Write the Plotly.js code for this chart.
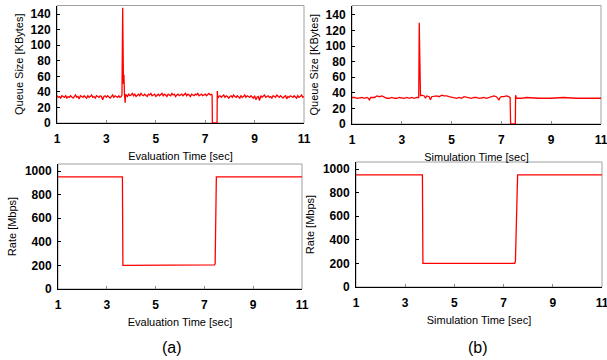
<!DOCTYPE html>
<html><head><meta charset="utf-8">
<script src="https://cdn.plot.ly/plotly-3.0.1.min.js"></script>
<style>html,body{margin:0;padding:0;background:#fff}#c{width:607px;height:360px}</style>
</head><body><div id="c"></div>
<script>
// ---- Data: (a) evaluation, queue size ----
const timeQueueA = [
 1,1.05,1.1,1.15,1.2,1.25,1.3,1.35,1.4,1.45,
 1.5,1.55,1.6,1.65,1.7,1.75,1.8,1.85,1.9,1.95,
 2,2.05,2.1,2.15,2.2,2.25,2.3,2.35,2.4,2.45,
 2.5,2.55,2.6,2.65,2.7,2.75,2.8,2.85,2.9,2.95,
 3,3.05,3.1,3.15,3.2,3.25,3.3,3.35,3.4,3.45,
 3.5,3.55,3.6,
 3.63,3.66,3.68,3.69,3.71,3.73,3.76,3.78,
 3.8,3.85,3.9,3.95,
 4,4.05,4.1,4.15,4.2,4.25,4.3,4.35,4.4,4.45,
 4.5,4.55,4.6,4.65,4.7,4.75,4.8,4.85,4.9,4.95,
 5,5.05,5.1,5.15,5.2,5.25,5.3,5.35,5.4,5.45,
 5.5,5.55,5.6,5.65,5.7,5.75,5.8,5.85,5.9,5.95,
 6,6.05,6.1,6.15,6.2,6.25,6.3,6.35,6.4,6.45,
 6.5,6.55,6.6,6.65,6.7,6.75,6.8,6.85,6.9,6.95,
 7,7.05,7.1,7.15,7.2,7.25,
 7.28,7.29,7.48,7.49,7.51,
 7.55,7.6,7.65,7.7,7.75,7.8,7.85,7.9,7.95,
 8,8.05,8.1,8.15,8.2,8.25,8.3,8.35,8.4,8.45,
 8.5,8.55,8.6,8.65,8.7,8.75,8.8,8.85,8.9,8.95,
 9,9.05,9.1,9.15,9.2,9.25,9.3,9.35,9.4,9.45,
 9.5,9.55,9.6,9.65,9.7,9.75,9.8,9.85,9.9,9.95,
 10,10.05,10.1,10.15,10.2,10.25,10.3,10.35,10.4,10.45,
 10.5,10.55,10.6,10.65,10.7,10.75,10.8,10.85,10.9,10.95,
 11
];
const queueA = [
 35,33,34,32,35,34,33,35,32,34,
 33,35,34,32,34,36,33,34,31,35,
 34,33,35,34,32,35,33,34,36,33,
 34,32,35,34,33,35,34,30,34,35,
 33,35,34,32,34,36,33,35,34,33,
 35,33,34,
 36,148,110,50,62,38,26,37,
 36,34,37,35,
 36,38,35,37,34,36,37,35,38,36,
 35,37,36,34,37,36,38,35,36,37,
 34,36,37,35,36,38,35,37,36,34,
 37,36,35,38,36,37,34,36,37,35,
 36,37,35,36,38,35,37,36,34,37,
 36,35,37,36,38,35,36,37,35,36,
 37,35,36,38,36,37,
 36,0,0,41,32,
 34,35,33,34,36,33,35,34,32,
 34,35,33,36,34,33,35,34,32,35,
 33,34,36,33,35,34,33,35,34,32,
 35,30,33,34,29,35,33,34,36,33,
 34,35,33,34,32,35,34,33,36,34,
 33,35,34,32,34,35,31,34,33,35,
 34,33,35,34,32,35,33,34,36,33,
 34
];
// ---- Data: (b) simulation, queue size ----
const timeQueueB = [1,1.1,1.2,1.3,1.4,1.5,1.6,1.65,1.7,1.75,1.8,1.9,2,2.1,2.2,2.3,2.4,2.5,2.6,2.7,2.8,2.9,3,3.1,3.2,3.3,3.4,3.5,3.6,
 3.68,3.7,3.72,3.75,3.8,3.9,3.95,4,4.1,4.15,4.2,4.3,4.4,4.5,4.6,4.7,4.8,4.9,5,5.1,5.2,5.3,5.4,5.5,5.6,5.7,5.8,5.9,
 6,6.1,6.2,6.3,6.4,6.5,6.6,6.7,6.8,6.85,6.9,6.95,7,7.1,7.2,7.3,7.35,7.37,7.56,7.57,7.6,7.8,8,8.5,9,9.5,10,10.5,11];
const queueB = [34,34,33,34,34,33,34,33,31,34,34,34,36,35,36,34,33,33,34,33,33,34,33,33,34,33,34,33,34,
 34,130,40,36,37,36,33,36,35,31,35,36,36,35,37,36,36,35,34,34,33,34,33,35,34,34,33,34,
 34,33,34,34,33,34,36,36,35,33,31,34,35,35,36,35,34,0,0,37,33,33,34,33,33,34,33,33,33];
// ---- Data: rates ----
const timeRateA = [1,3.64,3.66,7.37,7.42,7.44,7.49,11];
const rateA     = [950,950,200,200,205,215,950,950];
const timeRateB = [1,3.70,3.72,7.45,7.47,7.48,7.57,11];
const rateB     = [950,950,200,200,210,215,950,950];
const xTicks = [1,3,5,7,9,11];
const queueTicks = [0,20,40,60,80,100,120,140];
const rateTicks = [0,200,400,600,800,1000];

const W=607,H=360;
const dx=(a,b)=>[a/W,b/W];
const dy=(top,bot)=>[1-bot/H,1-top/H];
const red='#ff0000';
const FAM='Liberation Sans, Arial, sans-serif';
const tickF=()=>({family:FAM,size:12,color:'#000'});
const titF=()=>({family:FAM,size:11,color:'#000'});
const bold=v=>'<b>'+v+'</b>';

function xa(dom,anchor,title){return {domain:dom,anchor:anchor,range:[1,11],tickvals:xTicks.slice(),ticktext:xTicks.map(bold),
 ticks:'inside',ticklen:3,tickcolor:'#888',showline:true,linecolor:'#000',linewidth:1,showgrid:false,zeroline:false,
 ticklabelstandoff:5,ticklabeloverflow:'allow',
 tickfont:tickF(),title:{text:title,font:titF(),standoff:6}};}
function ya(dom,anchor,range,tv,title,st){return {domain:dom,anchor:anchor,range:range,tickvals:tv.slice(),ticktext:tv.map(bold),
 ticks:'inside',ticklen:3,tickcolor:'#000',showline:true,linecolor:'#000',linewidth:1,showgrid:false,zeroline:false,
 ticklabelstandoff:3,ticklabeloverflow:'allow',
 tickfont:tickF(),title:{text:title,font:titF(),standoff:st}};}

const mk=()=>({color:red,width:1.3});
const data=[
 {x:timeQueueA,y:queueA,xaxis:'x',yaxis:'y',mode:'lines',line:mk()},
 {x:timeQueueB,y:queueB,xaxis:'x2',yaxis:'y2',mode:'lines',line:mk()},
 {x:timeRateA,y:rateA,xaxis:'x3',yaxis:'y3',mode:'lines',line:mk()},
 {x:timeRateB,y:rateB,xaxis:'x4',yaxis:'y4',mode:'lines',line:mk()}
];
const frame=(xr,yr)=>({type:'rect',xref:xr+' domain',yref:yr+' domain',x0:0,x1:1,y0:0,y1:1,line:{color:'#a0a0a0',width:1},layer:'below'});
const layout={
 width:W,height:H,margin:{l:0,r:0,t:0,b:0},showlegend:false,
 paper_bgcolor:'#fff',plot_bgcolor:'#fff',
 xaxis: xa(dx(57,304),'y','Evaluation Time [sec]'),
 yaxis: ya(dy(5.5,123),'x',[0,151],queueTicks,'Queue Size [KBytes]',4),
 xaxis2:xa(dx(352,601),'y2','Simulation Time [sec]'),
 yaxis2:ya(dy(5.5,124),'x2',[0,152],queueTicks,'Queue Size [KBytes]',4),
 xaxis3:xa(dx(58,302),'y3','Evaluation Time [sec]'),
 yaxis3:ya(dy(164,289),'x3',[0,1060],rateTicks,'Rate [Mbps]',6),
 xaxis4:xa(dx(356,602),'y4','Simulation Time [sec]'),
 yaxis4:ya(dy(162,287),'x4',[0,1060],rateTicks,'Rate [Mbps]',6),
 shapes:[frame('x','y'),frame('x2','y2'),frame('x3','y3'),frame('x4','y4')],
 annotations:[
  {text:'(a)',xref:'paper',yref:'paper',x:172/W,y:1-347/H,yanchor:'middle',xanchor:'center',showarrow:false,font:{family:FAM,size:16,color:'#000'}},
  {text:'(b)',xref:'paper',yref:'paper',x:478/W,y:1-347/H,yanchor:'middle',xanchor:'center',showarrow:false,font:{family:FAM,size:16,color:'#000'}}
 ]
};
Plotly.newPlot('c',data,layout,{staticPlot:true,displayModeBar:false});
</script></body></html>
